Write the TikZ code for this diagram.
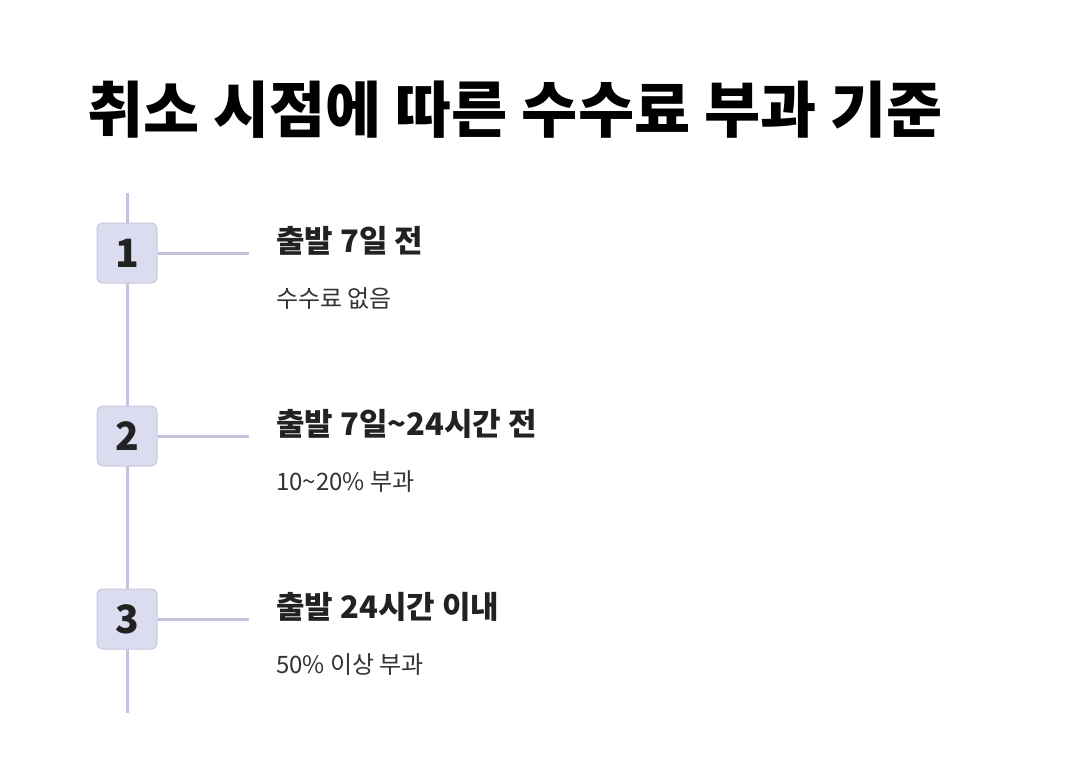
\documentclass[tikz,border=0pt]{standalone}
\usepackage{fontspec}
\usepackage{xcolor}
\usetikzlibrary{calc,positioning}
\setmainfont{Noto Sans CJK KR}
\definecolor{color_line}{HTML}{c5c3dc}
\definecolor{color_box_fill}{HTML}{dcdcf0}
\definecolor{color_box_draw}{HTML}{c8c7e0}
\definecolor{color_text}{HTML}{222222}
\definecolor{color_sub}{HTML}{333333}

\begin{document}
\begin{tikzpicture}[x=1pt,y=-1pt,
		every node/.style={inner sep=0pt},
		stepnum/.style={draw=color_box_draw,fill=color_box_fill,line width=1pt,
			rounded corners=6pt,minimum size=60pt,font=\fontsize{39}{42}\selectfont\bfseries,text=color_text},
		steptitle/.style={anchor=west,font=\fontsize{31}{34}\selectfont\bfseries,text=color_text},
		stepsub/.style={anchor=west,font=\fontsize{24}{28}\selectfont,text=color_sub},
		link/.style={color_line,line width=3pt}]
				\useasboundingbox (0, 0) rectangle (1070, 782);
				% Points
				\coordinate (TOP) at (127, 193);
				\coordinate (BOT) at (127, 713);
				\coordinate (E1) at (249, 253);
				\coordinate (E2) at (249, 436);
				\coordinate (E3) at (249, 619);

				% Heading
				\node[anchor=west,font=\fontsize{61}{66}\selectfont\bfseries,text=black]
					(heading) at (87, 110) {취소 시점에 따른 수수료 부과 기준};

				% Time line
				\draw[link] (TOP) -- (BOT);

				% Number boxes
				\node[stepnum] (N1) at (127, 253) {1};
				\node[stepnum] (N2) at (127, 436) {2};
				\node[stepnum] (N3) at (127, 619) {3};

				% Ticks
				\draw[link]
					(N1.east) -- (E1)
					(N2.east) -- (E2)
					(N3.east) -- (E3)
					;

				% Labels
				\node[steptitle] (T1) at (276, 241) {출발 7일 전};
				\node[stepsub] (S1) at (276, 299) {수수료 없음};
				\node[steptitle] (T2) at (276, 424) {출발 7일\textasciitilde24시간 전};
				\node[stepsub] (S2) at (276, 482) {10\textasciitilde20\% 부과};
				\node[steptitle] (T3) at (276, 607) {출발 24시간 이내};
				\node[stepsub] (S3) at (276, 665) {50\% 이상 부과};
			\end{tikzpicture}
\end{document}
